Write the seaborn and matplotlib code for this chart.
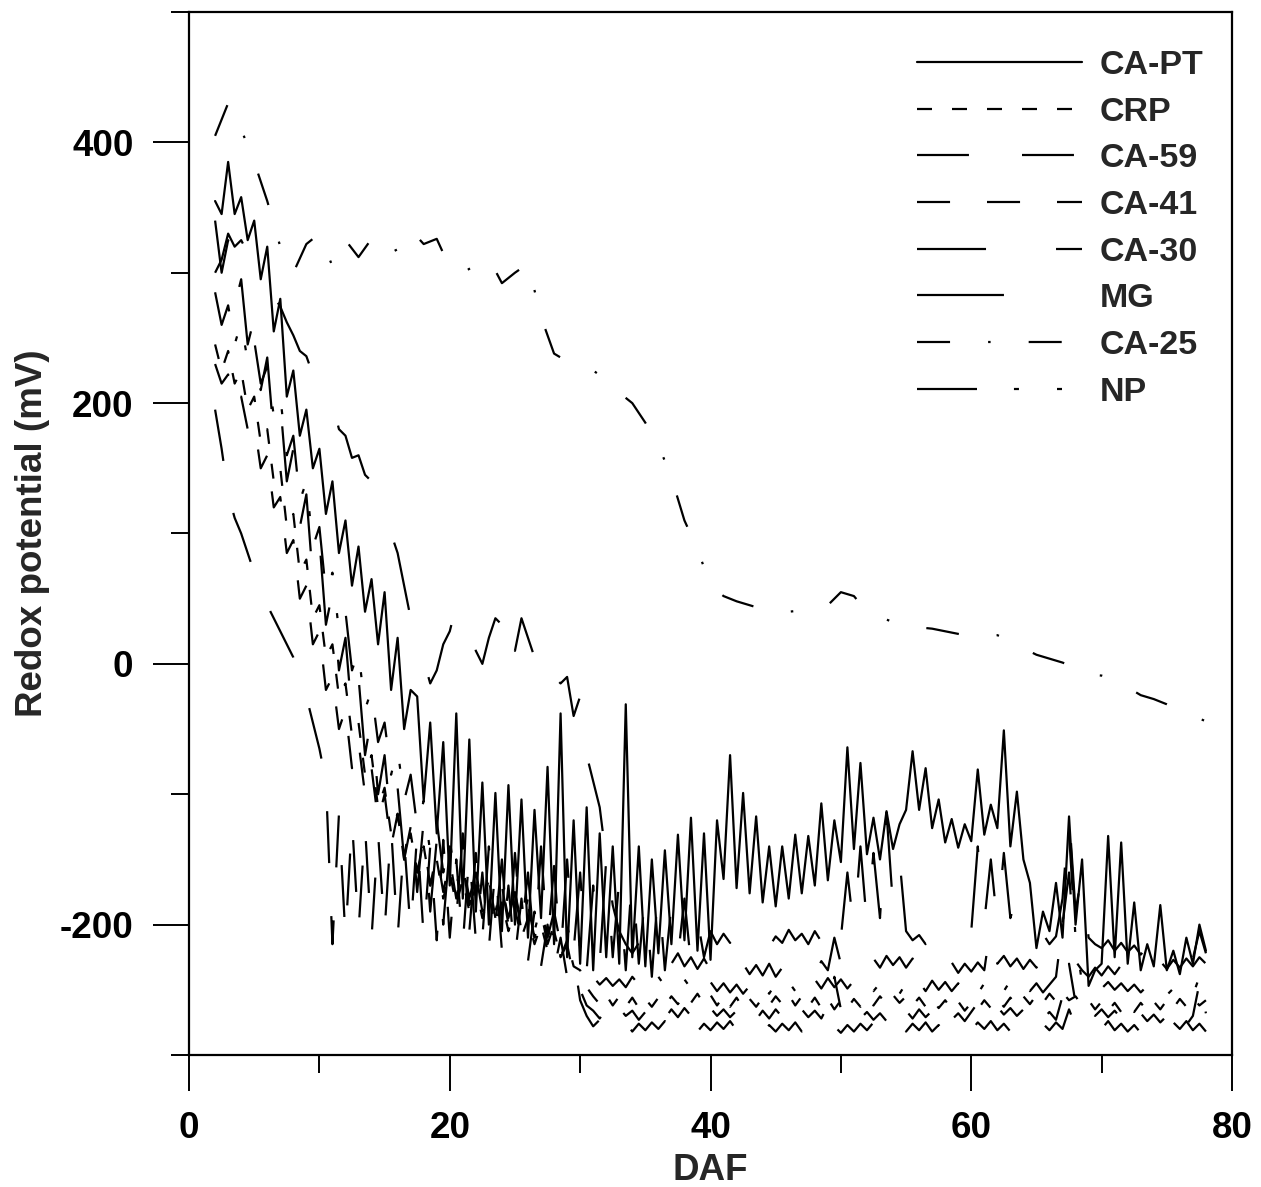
import numpy as np
import matplotlib
matplotlib.use('Agg')
import matplotlib.pyplot as plt
import seaborn as sns

#=====DATA (mV)=====
days_half = np.arange(2, 78.01, 0.5)
days_full = np.arange(2, 79, 1)

ca_pt = [355, 345, 385, 345, 358, 325, 340, 295, 320, 255,
	280, 205, 225, 175, 195, 150, 165, 115, 140, 85,
	110, 60, 90, 40, 65, 15, 55, -20, 20, -50,
	-20, -25, -105, -45, -130, -60, -170, -38, -180, -58,
	-190, -91, -200, -99, -205, -93, -200, -104, -210, -112,
	-195, -79, -215, -38, -225, -120, -230, -110, -235, -130,
	-225, -140, -230, -31, -225, -140, -232, -150, -222, -143,
	-215, -131, -212, -118, -220, -130, -227, -120, -165, -70,
	-172, -99, -176, -117, -183, -140, -186, -140, -180, -131,
	-176, -132, -170, -107, -166, -120, -152, -64, -142, -76,
	-146, -118, -150, -113, -142, -123, -112, -67, -112, -80,
	-126, -104, -137, -119, -141, -123, -136, -81, -131, -108,
	-126, -51, -140, -98, -150, -168, -218, -190, -205, -168,
	-210, -117, -200, -150, -247, -235, -230, -132, -225, -137,
	-230, -183, -235, -215, -232, -185, -235, -220, -238, -210,
	-230, -200, -220]

crp = [245, 225, 240, 215, 225, 195, 205, 170, 180, 140,
	150, 105, 115, 70, 80, 35, 45, 5, 15, -25,
	-15, -55, -45, -85, -70, -110, -95, -130, -115, -150,
	-130, -160, -140, -170, -150, -180, -160, -185, -165, -190,
	-170, -195, -178, -200, -182, -205, -188, -210, -195, -215,
	-200, -220, -205, -225, -212, -232, -235, -248, -255, -261,
	-254, -262, -255, -263, -256, -264, -257, -263, -256, -262,
	-255, -261, -254, -260, -253, -261, -254, -262, -255, -263,
	-256, -264, -257, -263, -256, -262, -255, -261, -254, -262,
	-255, -263, -256, -264, -257, -265, -258, -264, -257, -263,
	-256, -262, -255, -261, -254, -260, -255, -262, -256, -263,
	-257, -264, -258, -265, -259, -266, -260, -265, -258, -264,
	-257, -263, -256, -262, -255, -261, -254, -260, -253, -259,
	-252, -258, -255, -262, -258, -265, -259, -266, -260, -267,
	-261, -267, -260, -266, -259, -265, -258, -264, -257, -263,
	-256, -262, -258]

ca59 = [195, 165, 130, 112, 100, 85, 70, 55, 45, 35,
	25, 15, 5, -10, -25, -45, -65, -90, -215, -115,
	-210, -120, -205, -125, -210, -130, -205, -125, -210, -135,
	-205, -130, -210, -140, -212, -135, -210, -150, -215, -145,
	-212, -160, -218, -155, -220, -170, -225, -180, -228, -190,
	-232, -200, -235, -210, -240, -225, -258, -270, -278, -273,
	-280, -274, -281, -275, -282, -276, -281, -275, -280, -274,
	-281, -276, -283, -277, -282, -276, -281, -275, -280, -274,
	-281, -276, -282, -277, -283, -277, -282, -276, -281, -275,
	-282, -277, -283, -278, -284, -278, -283, -277, -282, -276,
	-281, -275, -282, -276, -283, -277, -282, -276, -281, -275,
	-282, -277, -283, -278, -282, -276, -281, -275, -280, -274,
	-281, -276, -282, -277, -283, -277, -282, -276, -281, -275,
	-280, -265, -278, -276, -281, -275, -280, -274, -281, -276,
	-282, -277, -283, -277, -282, -276, -281, -275, -280, -274,
	-281, -276, -282]

ca41 = [230, 215, 222, 200, 205, 180, 185, 150, 160, 120,
	128, 85, 95, 50, 60, 15, 25, -20, -10, -50,
	-35, -80, -60, -100, -80, -120, -100, -140, -115, -150,
	-125, -160, -135, -170, -145, -175, -150, -180, -155, -185,
	-160, -190, -165, -195, -170, -200, -175, -205, -185, -210,
	-190, -215, -200, -225, -215, -240, -250, -262, -266, -272,
	-265, -271, -264, -270, -266, -273, -267, -274, -268, -272,
	-265, -271, -264, -270, -263, -269, -264, -270, -265, -271,
	-266, -272, -267, -273, -266, -272, -265, -271, -264, -270,
	-265, -271, -266, -272, -262, -240, -265, -271, -266, -272,
	-267, -273, -268, -274, -267, -273, -266, -272, -265, -271,
	-266, -272, -267, -273, -268, -274, -267, -260, -262, -268,
	-263, -269, -264, -270, -265, -271, -266, -272, -267, -273,
	-255, -230, -260, -268, -264, -270, -265, -271, -266, -272,
	-267, -273, -268, -274, -269, -275, -270, -276, -271, -277,
	-270, -245, -268]

ca30 = [300, 310, 330, 320, 325, 315, 312, 300, 292, 282,
	274, 262, 252, 240, 236, 222, 216, 205, 200, 180,
	175, 158, 160, 145, 140, 128, 122, 100, 85, 60,
	35, 18, 3, -15, -5, 15, 25, 45, 35, 30,
	10, 0, 20, 35, 30, 45, 10, 35, 20, 5,
	-5, 8, -10, -15, -10, -40, -25, -70, -90, -110,
	-150, -185, -205, -215, -222, -214, -225, -218, -228, -220,
	-230, -222, -232, -225, -234, -226, -235, -228, -236, -229,
	-237, -230, -238, -231, -239, -230, -240, -233, -241, -234,
	-240, -232, -238, -228, -235, -210, -230, -222, -232, -225,
	-234, -226, -233, -224, -231, -225, -233, -226, -234, -227,
	-235, -228, -236, -229, -237, -230, -236, -229, -235, -200,
	-230, -224, -232, -226, -234, -227, -233, -226, -232, -225,
	-200, -160, -228, -235, -240, -233, -239, -232, -238, -231,
	-237, -230, -236, -229, -235, -228, -234, -227, -233, -226,
	-232, -225, -230]

mg = [340, 300, 325, 275, 295, 245, 265, 210, 235, 175,
	200, 140, 165, 105, 130, 65, 95, 30, 55, -5,
	20, -40, -10, -70, -40, -100, -70, -125, -95, -150,
	-115, -175, -120, -190, -135, -200, -140, -195, -130, -205,
	-145, -210, -140, -200, -150, -215, -145, -205, -160, -220,
	-140, -215, -155, -225, -150, -220, -160, -235, -170, -230,
	-150, -225, -165, -235, -160, -230, -175, -240, -170, -235,
	-185, -225, -180, -230, -195, -225, -205, -215, -207, -214,
	-205, -216, -208, -213, -206, -217, -209, -214, -204, -212,
	-207, -215, -205, -213, -200, -185, -210, -160, -205, -140,
	-200, -145, -195, -114, -186, -150, -205, -212, -208, -215,
	-210, -217, -212, -218, -209, -216, -205, -140, -198, -150,
	-200, -145, -195, -178, -201, -205, -212, -207, -215, -209,
	-180, -115, -190, -160, -210, -215, -218, -212, -220, -214,
	-221, -216, -223, -217, -224, -218, -225, -219, -226, -220,
	-226, -205, -222]

ca25 = [405, 430, 410, 385, 355, 320, 300, 322, 330, 305,
	325, 312, 326, 313, 318, 333, 322, 326, 304, 300,
	306, 311, 292, 300, 307, 266, 238, 232, 227, 225,
	218, 208, 200, 185, 168, 143, 110, 88, 60, 52,
	48, 45, 42, 40, 40, 41, 42, 45, 55, 52,
	40, 36, 32, 29, 28, 27, 25, 23, 21, 22,
	22, 18, 12, 7, 4, 1, -3, -8, -9, -12,
	-18, -24, -27, -31, -36, -40, -44]

np_vals = [285, 260, 275, 245, 262, 232, 248, 215, 228, 190,
	205, 160, 175, 125, 140, 90, 105, 55, 70, 25,
	40, -5, 10, -35, -20, -60, -45, -85, -65, -105,
	-85, -125, -105, -145, -120, -160, -135, -170, -150, -180,
	-160, -185, -165, -190, -170, -195, -175, -200, -180, -205,
	-185, -210, -190, -215, -200, -225, -215, -235, -240, -246,
	-241, -247, -242, -248, -240, -246, -239, -245, -240, -247,
	-241, -248, -242, -249, -243, -250, -244, -251, -245, -252,
	-246, -253, -247, -254, -246, -253, -245, -252, -244, -251,
	-243, -250, -242, -249, -241, -248, -242, -249, -243, -250,
	-244, -251, -245, -252, -246, -253, -245, -252, -244, -251,
	-243, -250, -244, -251, -245, -252, -246, -253, -245, -252,
	-244, -251, -243, -250, -244, -251, -245, -252, -246, -240,
	-200, -130, -210, -245, -248, -243, -249, -244, -250, -245,
	-251, -246, -252, -247, -253, -248, -254, -249, -255, -250,
	-254, -240, -252]

labels = ["CA-PT", "CRP", "CA-59", "CA-41", "CA-30", "MG", "CA-25", "NP"]
# dash patterns in points (on, off, ...)
styles = ['-', (0, (10.8, 14.4)), (0, (37.4, 38.2)), (0, (23.8, 26.6)),
	(0, (49.7, 50.4)), (0, (62.6, 60)), (0, (23.8, 27.4, 1.8, 27.4)),
	(0, (43.2, 26.6, 3.6, 27.4, 3.6, 27.4))]
xs = [days_half] * 6 + [days_full, days_half]
ys = [ca_pt, crp, ca59, ca41, ca30, mg, ca25, np_vals]

#=====STYLE=====
sns.set_style("ticks")
plt.rcParams['font.family'] = ['Liberation Sans', 'DejaVu Sans']
plt.rcParams['font.weight'] = 'bold'
plt.rcParams['axes.unicode_minus'] = False
plt.rcParams['lines.scale_dashes'] = False

fig = plt.figure(figsize=(12.61, 11.87), dpi=100)
ax = fig.add_axes([0.1499, 0.1112, 0.8271, 0.8787])

#=====PLOT=====
for lab, ls, x, y in zip(labels, styles, xs, ys):
	sns.lineplot(x=x, y=y, ax=ax, color='black', linewidth=1.6, linestyle=ls,
		label=lab, estimator=None, sort=False)

ax.set_xlim(0, 80)
ax.set_ylim(-300, 500)
ax.set_xticks([0, 20, 40, 60, 80])
ax.set_xticks(range(0, 81, 10), minor=True)
ax.set_yticks([-200, 0, 200, 400])
ax.set_yticks(range(-300, 501, 100), minor=True)
ax.tick_params(which='major', direction='out', length=26, width=1.4,
	labelsize=26.5, pad=14, color='black', labelcolor='black')
ax.tick_params(which='minor', direction='out', length=13, width=1.4, color='black')
for sp in ax.spines.values():
	sp.set_linewidth(1.6)
	sp.set_color('black')

ax.set_xlabel("DAF", fontsize=26.5, fontweight='bold', labelpad=5)
ax.set_ylabel("Redox potential (mV)", fontsize=26.5, fontweight='bold', labelpad=7)

ax.legend(loc='upper left', bbox_to_anchor=(917 / 1261, 1 - 50 / 1187),
	bbox_transform=fig.transFigure, frameon=False,
	prop={'weight': 'bold', 'size': 24.5}, handlelength=4.85,
	handletextpad=0.52, labelspacing=0.46, borderpad=0, borderaxespad=0)

fig.savefig("out.png", dpi=100)
